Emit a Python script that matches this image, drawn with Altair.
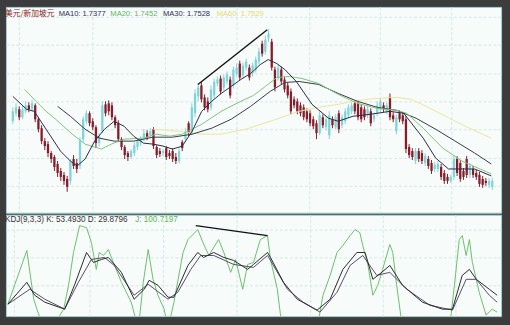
import altair as alt
import pandas as pd

# ---------------- candle data (USD/SGD daily) ----------------
opens = [1.730, 1.738, 1.742, 1.734, 1.740, 1.746, 1.742, 1.746, 1.732, 1.723,
         1.710, 1.707, 1.698, 1.694, 1.687, 1.680, 1.676, 1.672, 1.670, 1.692,
         1.688, 1.685, 1.712, 1.730, 1.738, 1.730, 1.724, 1.708, 1.720, 1.747,
         1.748, 1.746, 1.734, 1.728, 1.712, 1.704, 1.698, 1.694, 1.698, 1.704,
         1.708, 1.712, 1.718, 1.716, 1.722, 1.704, 1.700, 1.698, 1.703, 1.698,
         1.700, 1.694, 1.690, 1.709, 1.712, 1.728, 1.718, 1.738, 1.755, 1.766,
         1.754, 1.750, 1.744, 1.756, 1.768, 1.773, 1.764, 1.770, 1.772, 1.766,
         1.778, 1.788, 1.776, 1.784, 1.784, 1.778, 1.782, 1.790, 1.808, 1.800,
         1.814, 1.810, 1.782, 1.774, 1.782, 1.772, 1.766, 1.760, 1.752, 1.750,
         1.746, 1.744, 1.740, 1.738, 1.732, 1.728, 1.718, 1.734, 1.724, 1.716,
         1.732, 1.724, 1.738, 1.726, 1.730, 1.736, 1.740, 1.748, 1.748, 1.744,
         1.742, 1.736, 1.740, 1.732, 1.738, 1.742, 1.746, 1.740, 1.754, 1.736,
         1.720, 1.738, 1.736, 1.732, 1.704, 1.700, 1.690, 1.700, 1.698, 1.688,
         1.692, 1.688, 1.682, 1.682, 1.684, 1.678, 1.674, 1.670, 1.674, 1.692,
         1.688, 1.680, 1.692, 1.676, 1.682, 1.678, 1.676, 1.672, 1.670, 1.666,
         1.664]
closes = [1.740, 1.744, 1.734, 1.742, 1.746, 1.742, 1.748, 1.732, 1.722, 1.710,
          1.705, 1.698, 1.692, 1.684, 1.678, 1.674, 1.670, 1.664, 1.690, 1.685,
          1.682, 1.710, 1.732, 1.738, 1.728, 1.724, 1.708, 1.715, 1.746, 1.738,
          1.740, 1.734, 1.726, 1.712, 1.704, 1.696, 1.694, 1.700, 1.706, 1.710,
          1.712, 1.718, 1.714, 1.720, 1.705, 1.696, 1.697, 1.700, 1.694, 1.695,
          1.692, 1.690, 1.700, 1.703, 1.720, 1.718, 1.744, 1.758, 1.764, 1.752,
          1.744, 1.742, 1.762, 1.770, 1.772, 1.760, 1.774, 1.777, 1.756, 1.782,
          1.784, 1.774, 1.786, 1.790, 1.774, 1.786, 1.792, 1.800, 1.798, 1.812,
          1.818, 1.784, 1.764, 1.784, 1.770, 1.762, 1.756, 1.740, 1.746, 1.740,
          1.738, 1.734, 1.732, 1.728, 1.725, 1.718, 1.736, 1.726, 1.732, 1.736,
          1.726, 1.734, 1.722, 1.734, 1.740, 1.744, 1.746, 1.740, 1.734, 1.732,
          1.734, 1.742, 1.728, 1.736, 1.746, 1.750, 1.742, 1.746, 1.734, 1.732,
          1.734, 1.732, 1.730, 1.702, 1.696, 1.694, 1.700, 1.692, 1.690, 1.695,
          1.685, 1.680, 1.686, 1.687, 1.674, 1.670, 1.670, 1.674, 1.692, 1.678,
          1.672, 1.674, 1.676, 1.685, 1.676, 1.674, 1.667, 1.666, 1.668, 1.670,
          1.670]
highs = [1.744, 1.748, 1.745, 1.746, 1.750, 1.749, 1.751, 1.748, 1.734, 1.726,
         1.713, 1.710, 1.700, 1.696, 1.690, 1.683, 1.679, 1.675, 1.692, 1.696,
         1.692, 1.714, 1.735, 1.741, 1.740, 1.733, 1.726, 1.718, 1.750, 1.750,
         1.751, 1.749, 1.736, 1.731, 1.714, 1.706, 1.700, 1.702, 1.709, 1.713,
         1.715, 1.722, 1.721, 1.723, 1.724, 1.706, 1.703, 1.702, 1.705, 1.701,
         1.703, 1.698, 1.703, 1.711, 1.723, 1.730, 1.748, 1.762, 1.767, 1.769,
         1.757, 1.754, 1.766, 1.773, 1.775, 1.776, 1.777, 1.780, 1.775, 1.785,
         1.788, 1.791, 1.789, 1.793, 1.787, 1.789, 1.795, 1.804, 1.811, 1.816,
         1.823, 1.813, 1.785, 1.787, 1.785, 1.775, 1.769, 1.763, 1.755, 1.753,
         1.749, 1.747, 1.743, 1.741, 1.735, 1.731, 1.740, 1.737, 1.735, 1.740,
         1.735, 1.737, 1.741, 1.737, 1.743, 1.747, 1.749, 1.751, 1.751, 1.747,
         1.745, 1.745, 1.743, 1.739, 1.750, 1.753, 1.749, 1.749, 1.758, 1.739,
         1.737, 1.741, 1.739, 1.735, 1.707, 1.703, 1.703, 1.703, 1.701, 1.698,
         1.695, 1.691, 1.689, 1.690, 1.687, 1.681, 1.677, 1.676, 1.696, 1.695,
         1.691, 1.683, 1.695, 1.688, 1.685, 1.681, 1.679, 1.675, 1.673, 1.673,
         1.673]
lows = [1.727, 1.735, 1.731, 1.732, 1.738, 1.739, 1.740, 1.729, 1.719, 1.707,
        1.701, 1.694, 1.688, 1.680, 1.674, 1.670, 1.666, 1.659, 1.666, 1.682,
        1.678, 1.682, 1.709, 1.727, 1.725, 1.721, 1.703, 1.705, 1.718, 1.735,
        1.736, 1.731, 1.723, 1.709, 1.701, 1.692, 1.690, 1.692, 1.695, 1.701,
        1.705, 1.710, 1.711, 1.713, 1.702, 1.693, 1.694, 1.695, 1.691, 1.692,
        1.689, 1.687, 1.688, 1.700, 1.709, 1.715, 1.716, 1.734, 1.750, 1.749,
        1.741, 1.739, 1.741, 1.753, 1.765, 1.757, 1.761, 1.767, 1.753, 1.763,
        1.775, 1.771, 1.773, 1.781, 1.771, 1.775, 1.779, 1.787, 1.795, 1.797,
        1.810, 1.781, 1.760, 1.771, 1.767, 1.759, 1.753, 1.737, 1.743, 1.737,
        1.735, 1.731, 1.729, 1.725, 1.722, 1.712, 1.716, 1.723, 1.721, 1.712,
        1.723, 1.722, 1.718, 1.723, 1.727, 1.733, 1.737, 1.737, 1.731, 1.729,
        1.731, 1.733, 1.725, 1.729, 1.735, 1.739, 1.739, 1.737, 1.731, 1.729,
        1.717, 1.729, 1.727, 1.698, 1.693, 1.691, 1.687, 1.689, 1.687, 1.685,
        1.682, 1.677, 1.679, 1.679, 1.671, 1.667, 1.667, 1.668, 1.671, 1.675,
        1.669, 1.671, 1.673, 1.673, 1.673, 1.671, 1.664, 1.663, 1.665, 1.663,
        1.661]

# ---------------- moving averages ----------------
ma10_day = [0, 4.3, 6.7, 10.4, 14.9, 18, 20.1, 22.6, 25.6, 28.7, 31.7, 34.8, 37.8, 40.9,
            43.9, 47, 50, 53, 56.1, 59.1, 62.2, 65.2, 68.3, 71.3, 74.4, 77.4, 79.9, 82.6,
            85.1, 88.7, 93.6, 98.8, 101.8, 106.4, 111.9, 118, 122.3, 128.4, 132.3, 136.3,
            144.5, 149.7]
ma10_val = [1.755, 1.742, 1.740, 1.722, 1.700, 1.690, 1.685, 1.692, 1.710, 1.722, 1.730,
            1.725, 1.715, 1.708, 1.707, 1.705, 1.702, 1.705, 1.720, 1.740, 1.750, 1.758,
            1.765, 1.772, 1.778, 1.787, 1.792, 1.788, 1.782, 1.770, 1.747, 1.733, 1.730,
            1.735, 1.737, 1.740, 1.738, 1.713, 1.693, 1.682, 1.682, 1.675]
ma20_day = [3.7, 7.3, 10.4, 13.4, 18.6, 22.6, 27.7, 30.8, 34.8, 40.9, 44.8, 49.1, 53, 59.1,
            65.2, 71.3, 75.3, 79, 82.6, 86.6, 90.5, 95.7, 101.8, 107.9, 114, 120.1, 123.2,
            128.4, 134.5, 140.5, 149.7]
ma20_val = [1.762, 1.750, 1.740, 1.732, 1.717, 1.707, 1.702, 1.707, 1.712, 1.713, 1.717,
            1.715, 1.717, 1.727, 1.740, 1.750, 1.756, 1.765, 1.774, 1.775, 1.773, 1.768,
            1.757, 1.748, 1.743, 1.741, 1.738, 1.723, 1.703, 1.690, 1.677]
ma30_day = [14, 18, 22.6, 27.1, 31.7, 37.8, 43.9, 50, 56.1, 62.2, 68.3, 74.4, 80.5, 85.1,
            89.6, 95.7, 101.8, 107.9, 114, 120.1, 126.2, 132.3, 138.4, 144.5, 149.7]
ma30_val = [1.745, 1.735, 1.722, 1.713, 1.710, 1.710, 1.714, 1.714, 1.717, 1.723, 1.732,
            1.745, 1.760, 1.769, 1.770, 1.767, 1.758, 1.750, 1.744, 1.741, 1.733, 1.722,
            1.710, 1.698, 1.687]
ma60_day = [43.9, 51.5, 59.1, 65.2, 72.9, 80.5, 89.6, 95.7, 101.8, 107.9, 114, 120.1,
            124.7, 129.3, 135.4, 141.5, 149.7]
ma60_val = [1.722, 1.720, 1.717, 1.717, 1.722, 1.730, 1.740, 1.744, 1.747, 1.751, 1.753,
            1.754, 1.752, 1.745, 1.735, 1.725, 1.713]

# ---------------- KDJ(9,3,3) ----------------
j_day = [0, 5.8, 7.9, 9.5, 13.4, 17.1, 18.6, 20.1, 22, 24.1, 25.6, 27.1, 28, 29.3, 30.8,
         32.3, 34.8, 37.8, 40, 41.5, 43, 44.5, 46, 47.9, 49.1, 50.9, 53.7, 55.2, 58.2,
         59.8, 61.6, 64.6, 66.2, 68.3, 69.8, 72, 73.5, 75.3, 77.4, 79.6, 80.5, 82.6, 84.1,
         94.8, 96.6, 98.8, 100.9, 102.7, 104.9, 106.4, 107.9, 108.8, 110.4, 111.9, 113.4,
         114.9, 117.1, 118, 119.2, 121, 135.4, 136.9, 138.4, 139.3, 140.5, 141.5, 142.4,
         144.5, 146.6, 148.5, 150]
j_val = [12, 93, 19.5, -4.5, -25, 4.5, 40.5, 90, 130.5, 127.5, 105, 64.5, 90, 85.5, 94.5,
         75, 45, 15, -25, 45, 94.5, 49.5, 25.5, 4.5, -25, 15, 90, 109.5, 124.5, 105, 85.5,
         109.5, 90, 60, 79.5, 34.5, 72, 75, 109.5, 115.5, 79.5, 34.5, -25, -25, 25.5, 55.5,
         90, 100.5, 115.5, 124.5, 120, 100.5, 70.5, 25.5, 40.5, 64.5, 102, 90, 40.5, -25,
         -25, 40.5, 109.5, 115.5, 85.5, 109.5, 75, 30, -4.5, 4.5, 0]
k_day = [0, 5.8, 8.2, 11.3, 17.4, 20.4, 24.1, 26.2, 28.7, 30.8, 34.8, 38.7, 41.8, 43.3,
         46, 49.1, 50.9, 55.2, 58.2, 60, 63.1, 66.2, 69.2, 73.5, 75.3, 79.6, 80.5, 84.5,
         88.7, 94.8, 98.8, 102.7, 107, 109.5, 111.9, 114.6, 117.1, 121, 127.1, 133.2,
         136.3, 139.3, 141.5, 143.6, 147.6, 150]
k_val = [12, 45, 25.5, 15, 4.5, 40.5, 90, 75, 79.5, 82.5, 60, 19.5, 34.5, 48, 40.5, 22.5,
         22.5, 70.5, 90, 82.5, 90, 82.5, 78, 64.5, 72, 90, 82.5, 45, 19.5, 3, 19.5, 64.5,
         90, 90, 49.5, 60, 70.5, 40.5, 15, 4.5, 4.5, 55.5, 64.5, 49.5, 34.5, 25.5]
d_day = [0, 6.7, 11.3, 17.4, 21.6, 25.6, 29.6, 32.6, 38.7, 43, 49.1, 52.1, 56.1, 59.1,
         63.1, 69.2, 75.3, 79.6, 85.7, 90.5, 95.7, 100.9, 104.9, 108.8, 113.1, 117.1,
         122.3, 129.3, 136.3, 140.5, 143.6, 147.6, 150]
d_val = [12, 34.5, 19.5, 4.5, 45, 79.5, 82.5, 70.5, 25.5, 42, 19.5, 30, 64.5, 85.5, 85.5,
         72, 67.5, 85.5, 34.5, 15, 0, 30, 70.5, 85.5, 55.5, 60, 34.5, 10.5, 3, 49.5, 49.5,
         25.5, 15]

# hand-drawn divergence lines
price_trend_day = [57.9, 79.6]
price_trend_val = [1.767, 1.822]
kdj_trend_day = [57.6, 79.6]
kdj_trend_val = [130.5, 115.5]

# grid positions and labels
grid_days = [1.8, 25, 47.6, 70.1, 92.7, 114.9, 137.2]
grid_prices = [1.835, 1.807, 1.778, 1.750, 1.722, 1.693, 1.665]
grid_kdj = [124.5, 82.5, 40.5]
main_labels = ["美元/新加坡元", "MA10: 1.7377", "MA20: 1.7452", "MA30: 1.7528", "MA60: 1.7529"]
kdj_labels = ["KDJ(9,3,3) K: 53.4930 D: 29.8796", "J: 100.7197"]

# ---------------- styling ----------------
UP, DOWN = "#80d4d8", "#861d2b"
W, H_MAIN, H_KDJ = 498, 207, 102
grid_style = dict(grid=True, labels=False, ticks=False, domain=False, title=None,
                  gridColor="#d6e8e8", gridDash=[3, 2], gridWidth=1)

x_scale = alt.Scale(domain=[-0.6, 151.2], nice=False, zero=False)
x_axis = alt.Axis(values=grid_days, **grid_style)
y_main_scale = alt.Scale(domain=[1.638, 1.845], nice=False, zero=False)
y_main_axis = alt.Axis(values=grid_prices, **grid_style)
y_kdj_scale = alt.Scale(domain=[-6, 147], nice=False, zero=False)
y_kdj_axis = alt.Axis(values=grid_kdj, **grid_style)


def X():
    return alt.X("day:Q", scale=x_scale, axis=x_axis)


n = len(opens)
candles = pd.DataFrame({"day": list(range(n)), "open": opens, "close": closes,
                        "high": highs, "low": lows})
candles["dir"] = ["up" if c >= o else "down" for o, c in zip(opens, closes)]
dir_color = alt.Color("dir:N", scale=alt.Scale(domain=["up", "down"], range=[UP, DOWN]),
                      legend=None)

base = alt.Chart(candles)
wicks = base.mark_rule(strokeWidth=1).encode(
    x=X(), y=alt.Y("low:Q", scale=y_main_scale, axis=y_main_axis), y2="high:Q",
    color=dir_color)
bodies = base.mark_bar(size=2.3).encode(
    x=X(), y=alt.Y("open:Q", scale=y_main_scale, axis=y_main_axis), y2="close:Q",
    color=dir_color)


def line(days, vals, color, yscale, yaxis, width=1.0, clip=False):
    df = pd.DataFrame({"day": days, "value": vals})
    return alt.Chart(df).mark_line(color=color, strokeWidth=width, clip=clip).encode(
        x=X(), y=alt.Y("value:Q", scale=yscale, axis=yaxis))


def label(text, px, py, color, font, size):
    return alt.Chart(pd.DataFrame({"t": [text]})).mark_text(
        align="left", baseline="middle", color=color, font=font, fontSize=size
    ).encode(x=alt.value(px), y=alt.value(py), text="t:N")


main_colors = ["#8b2525", "#2d2f5c", "#5cb85c", "#2d2f5c", "#e6dc6a"]
main_x = [-1, 53, 105, 158, 212]
main_text = [label(main_labels[0], main_x[0], 7, main_colors[0], "Noto Sans CJK SC", 7.8)]
for t, px, c in zip(main_labels[1:], main_x[1:], main_colors[1:]):
    main_text.append(label(t, px, 7, c, "Liberation Sans", 7.6))

main = alt.layer(
    wicks, bodies,
    line(ma60_day, ma60_val, "#ece49c", y_main_scale, y_main_axis),
    line(ma30_day, ma30_val, "#3a3a44", y_main_scale, y_main_axis),
    line(ma20_day, ma20_val, "#80c480", y_main_scale, y_main_axis),
    line(ma10_day, ma10_val, "#2b2b48", y_main_scale, y_main_axis),
    line(price_trend_day, price_trend_val, "#111111", y_main_scale, y_main_axis, 1.4),
    *main_text,
).properties(width=W, height=H_MAIN)

kdj = alt.layer(
    line(j_day, j_val, "#6cc06c", y_kdj_scale, y_kdj_axis, 1.0, True),
    line(d_day, d_val, "#5a4a6e", y_kdj_scale, y_kdj_axis, 1.0, True),
    line(k_day, k_val, "#2a2a2a", y_kdj_scale, y_kdj_axis, 1.0, True),
    line(kdj_trend_day, kdj_trend_val, "#111111", y_kdj_scale, y_kdj_axis, 1.4),
    label(kdj_labels[0], -1, 5, "#333333", "Liberation Sans", 8.2),
    label(kdj_labels[1], 130, 5, "#5cb85c", "Liberation Sans", 8.2),
).properties(width=W, height=H_KDJ)

chart = alt.vconcat(main, kdj, spacing=0).properties(
    background="#3c3c3c",
    padding={"left": 4, "top": 5, "right": 8, "bottom": 11},
).configure_view(stroke="#a3cfcf", strokeWidth=1, fill="#f7fbfa")

chart.save("out.html", embed_options={"renderer": "svg", "actions": False})
